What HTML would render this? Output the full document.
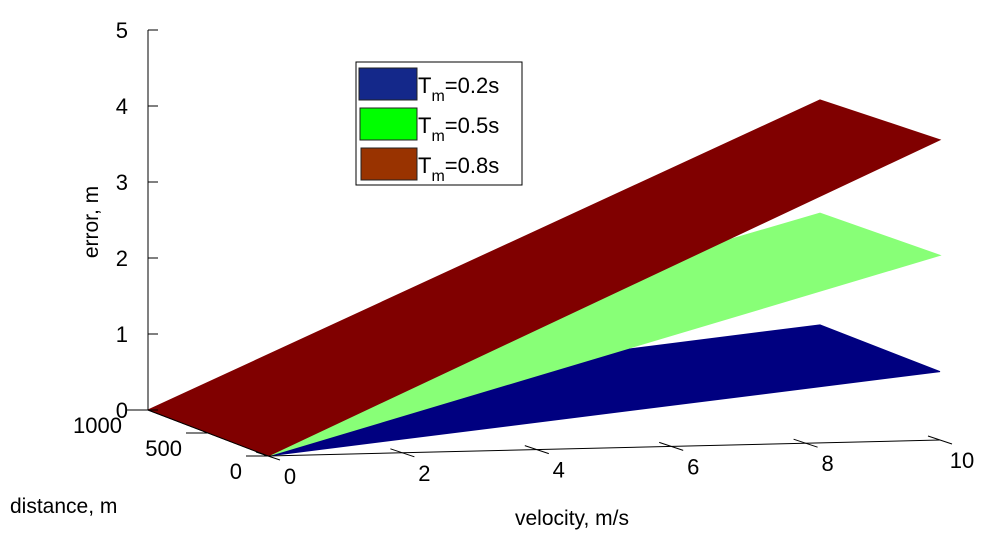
<!DOCTYPE html>
<html><head><meta charset="utf-8"><style>
html,body{margin:0;padding:0;background:#fff;}
svg{display:block;font-family:"Liberation Sans",sans-serif;}
</style></head><body>
<svg id="chart" width="1000" height="533" viewBox="0 0 1000 533">
<g id="surfaces"></g>
<g id="axes"></g>
<text x="98" y="222" font-size="21" text-anchor="middle" transform="rotate(-90 98 222)">error, m</text>
<text x="10" y="513" font-size="21">distance, m</text>
<text x="515" y="525" font-size="21">velocity, m/s</text>
<g>
<rect x="356" y="62" width="166" height="123" fill="#fff" stroke="#000" stroke-width="1"/>
<rect x="359" y="68" width="58" height="32" fill="#14288a" stroke="#222"/>
<text x="418" y="93" font-size="22">T<tspan font-size="16" dy="8">m</tspan><tspan dy="-8">=0.2s</tspan></text>
<rect x="360" y="108" width="57" height="32" fill="#00ff00" stroke="#222"/>
<text x="418" y="133" font-size="22">T<tspan font-size="16" dy="8">m</tspan><tspan dy="-8">=0.5s</tspan></text>
<rect x="361" y="148" width="56" height="32" fill="#993300" stroke="#222"/>
<text x="418" y="173" font-size="22">T<tspan font-size="16" dy="8">m</tspan><tspan dy="-8">=0.8s</tspan></text>
</g>
</svg>
<script>
const velocities=[0,10];
const distances=[0,1000];
const seriesNames=["Tm=0.2s","Tm=0.5s","Tm=0.8s"];
const errBlue=[[0,0],[0.9,0.91]];
const errGreen=[[0,0],[2.43,2.38]];
const errRed=[[0,0],[3.95,3.87]];
const velTicks=[0,2,4,6,8,10];
const distTicks=[0,500,1000];
const errTicks=[0,1,2,3,4,5];
const colors=["#000080","#88ff77","#800000"];
function P(v,d,e){return [268+67.2*v-0.12*d, 456-1.6*v-0.046*d-76*e];}
const NS="http://www.w3.org/2000/svg";
const sg=document.getElementById('surfaces'),ag=document.getElementById('axes');
function mk(tag,attrs,parent){const el=document.createElementNS(NS,tag);for(const k in attrs)el.setAttribute(k,attrs[k]);parent.appendChild(el);return el;}
[errBlue,errGreen,errRed].forEach((E,s)=>{
  const pts=[P(velocities[0],distances[0],E[0][0]),P(velocities[1],distances[0],E[1][0]),P(velocities[1],distances[1],E[1][1]),P(velocities[0],distances[1],E[0][1])];
  const el=mk('polygon',{points:pts.map(p=>p.join(',')).join(' '),fill:colors[s],stroke:colors[s],'stroke-width':1},sg);
  
  
});
function line(a,b,name){const el=mk('line',{x1:a[0],y1:a[1],x2:b[0],y2:b[1],stroke:'#000','stroke-width':1},ag);}
function txt(p,t,name,anchor){const el=mk('text',{x:p[0],y:p[1],'font-size':22,'text-anchor':anchor||'middle'},ag);el.textContent=t;}
line(P(0,0,0),P(10,0,0),'velocity-axis');
line(P(0,0,0),P(0,1000,0),'distance-axis');
line(P(0,1000,0),P(0,1000,5),'error-axis');
velTicks.forEach(v=>{const p=P(v,0,0);line([p[0]-12,p[1]-4],[p[0]+12,p[1]+4],'velocity-tick');txt([p[0]+22,p[1]+28],String(v),'velocity-tick-label');});
distTicks.forEach(d=>{const p=P(0,d,0);line([p[0]-22,p[1]],[p[0],p[1]],'distance-tick');txt([p[0]-26,p[1]+23],String(d),'distance-tick-label','end');});
errTicks.forEach(e=>{const p=P(0,1000,e);line([p[0],p[1]],[p[0]+10,p[1]],'error-tick');txt([p[0]-20,p[1]+8],String(e),'error-tick-label','end');});
</script>
</body></html>
